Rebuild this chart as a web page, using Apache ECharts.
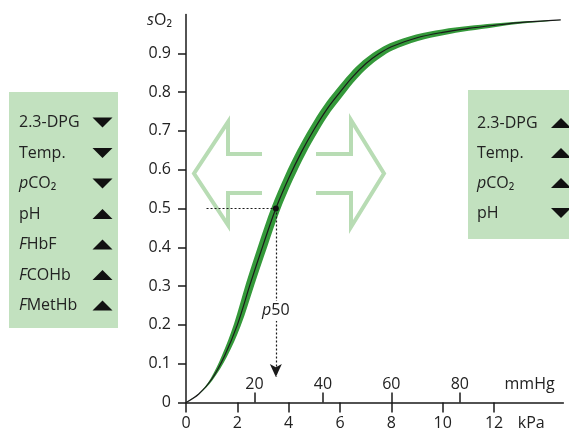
<!DOCTYPE html>
<html>
<head>
<meta charset="utf-8">
<script src="https://cdn.jsdelivr.net/npm/echarts@6/dist/echarts.min.js"></script>
<style>
  html, body { margin: 0; padding: 0; background: #fff; }
  #main { width: 569px; height: 436px; }
</style>
</head>
<body>
<div id="main"></div>
<script>
// oxygen dissociation curve
const kPa = [0, 0.5, 1.0, 1.5, 2.0, 2.5, 3.0, 3.5, 4.0, 4.5, 5.0, 5.5, 6.0, 6.5, 7.0, 7.5, 8.0, 9.0, 10.0, 11.0, 12.0, 13.0, 14.6];
const sO2 = [0, 0.022, 0.06, 0.12, 0.2, 0.305, 0.405, 0.5, 0.578, 0.646, 0.705, 0.757, 0.8, 0.84, 0.873, 0.898, 0.917, 0.94, 0.954, 0.964, 0.972, 0.979, 0.986];

const p50 = 3.5;

const kPaTicks = [0, 2, 4, 6, 8, 10, 12];
const mmHgTicks = [20, 40, 60, 80];
const sO2Ticks = [0, 0.1, 0.2, 0.3, 0.4, 0.5, 0.6, 0.7, 0.8, 0.9];

const leftFactors = ['2.3-DPG', 'Temp.', '{i|p}CO₂', 'pH', '{i|F}HbF', '{i|F}COHb', '{i|F}MetHb'];
const leftDir = ['down', 'down', 'down', 'up', 'up', 'up', 'up'];
const rightFactors = ['2.3-DPG', 'Temp.', '{i|p}CO₂', 'pH'];
const rightDir = ['up', 'up', 'up', 'down'];

// half thickness (px) of the green band round the curve
const bandHalf = [0, 0.3, 1.2, 2.5, 3.5, 4.2, 4.5, 4.5, 4.5, 4.5, 4.5, 4.5, 4.5, 4.3, 4.2, 4, 3.8, 3.4, 3, 2.4, 1.8, 1.2, 0];

const FONT = '"Open Sans", "Noto Sans", sans-serif';
const INK = '#222';
const PANEL = '#c2e1bf';
const ARROW = '#b8dcb4';

const kPaMax = 14.7;
const mmHgMax = kPaMax * 7.50062;

function txt(str, x, y) {
    return {
        type: 'text', z: 5,
        style: {
            text: str, x: x, y: y, verticalAlign: 'middle',
            font: '16px ' + FONT, fill: INK,
            rich: { i: { fontStyle: 'italic', fontSize: 16, fontFamily: FONT, fill: INK } }
        }
    };
}
function tri(dir, x, y) {
    const pts = dir === 'down'
        ? [[x, y - 5], [x + 20, y - 5], [x + 10, y + 5]]
        : [[x + 10, y - 5], [x + 20, y + 5], [x, y + 5]];
    return { type: 'polygon', z: 5, shape: { points: pts }, style: { fill: '#111' } };
}

const graphics = [
    { type: 'rect', z: 1, shape: { x: 9, y: 92, width: 109, height: 236 }, style: { fill: PANEL } },
    { type: 'rect', z: 1, shape: { x: 468, y: 90, width: 101, height: 149 }, style: { fill: PANEL } },
    { type: 'polyline', z: 1, shape: { points: [[262, 154], [228, 154], [228, 122], [194, 173.5], [228, 225], [228, 193], [262, 193]] },
      style: { stroke: ARROW, lineWidth: 4, fill: null, lineJoin: 'miter' } },
    { type: 'polyline', z: 1, shape: { points: [[316, 154], [351, 154], [351, 120], [384, 173.5], [351, 227], [351, 193], [316, 193]] },
      style: { stroke: ARROW, lineWidth: 4, fill: null, lineJoin: 'miter' } }
];
leftFactors.forEach((f, i) => {
    const y = 122.5 + i * 30.5;
    graphics.push(txt(f, 19, y));
    graphics.push(tri(leftDir[i], 92.5, y));
});
rightFactors.forEach((f, i) => {
    const y = 123 + i * 30;
    graphics.push(txt(f, 477, y));
    graphics.push(tri(rightDir[i], 551, y));
});

const curve = kPa.map((k, i) => [k, sO2[i]]);

let myChart = echarts.init(document.getElementById('main'));
let option = {
    animation: false,
    textStyle: { fontFamily: FONT },
    grid: { left: 186, right: 569 - 186 - kPaMax * 25.67, top: 14.5, bottom: 33.5, outerBoundsMode: 'none' },
    xAxis: [
        {
            type: 'value', min: 0, max: kPaMax, position: 'bottom',
            axisLine: { lineStyle: { color: '#1a1a1a', width: 1.5 } },
            axisTick: { show: true, customValues: kPaTicks, length: 10, lineStyle: { color: '#1a1a1a', width: 1.5 } },
            axisLabel: {
                customValues: kPaTicks.concat([13.45]),
                formatter: v => (v > 13 ? 'kPa' : String(v)),
                margin: 13, color: INK, fontSize: 16
            },
            splitLine: { show: false }
        },
        {
            type: 'value', min: 0, max: mmHgMax, position: 'bottom',
            axisLine: { show: false },
            axisTick: { show: true, inside: true, customValues: mmHgTicks, length: 10, lineStyle: { color: '#1a1a1a', width: 1.5 } },
            axisLabel: {
                inside: true,
                customValues: mmHgTicks.concat([100.4]),
                formatter: v => (v > 90 ? 'mmHg' : String(v)),
                margin: 10, color: INK, fontSize: 16
            },
            splitLine: { show: false }
        }
    ],
    yAxis: {
        type: 'value', min: 0, max: 1,
        axisLine: { show: true, lineStyle: { color: '#1a1a1a', width: 1.5 } },
        axisTick: { show: true, customValues: sO2Ticks, length: 8, lineStyle: { color: '#1a1a1a', width: 1.5 } },
        axisLabel: {
            customValues: sO2Ticks,
            formatter: v => (v === 0 ? '0' : v.toFixed(1)),
            margin: 15, color: INK, fontSize: 16
        },
        splitLine: { show: false },
        name: '{i|s}O₂',
        nameLocation: 'end',
        nameGap: -6,
        nameTextStyle: {
            align: 'right', verticalAlign: 'middle', padding: [0, 14, 0, 0],
            color: INK, fontSize: 16,
            rich: { i: { fontStyle: 'italic', fontSize: 16, color: INK } }
        }
    },
    graphic: graphics,
    series: [
        {
            type: 'custom',
            coordinateSystem: 'cartesian2d',
            silent: true,
            z: 2,
            data: [[0, 0]],
            renderItem: function (params, api) {
                const pts = curve.map(d => api.coord(d));
                const up = [], lo = [];
                for (let i = 0; i < pts.length; i++) {
                    const a = pts[Math.max(i - 1, 0)];
                    const b = pts[Math.min(i + 1, pts.length - 1)];
                    const tx = b[0] - a[0], ty = b[1] - a[1];
                    const len = Math.hypot(tx, ty) || 1;
                    const nx = -ty / len, ny = tx / len;
                    up.push([pts[i][0] + nx * bandHalf[i], pts[i][1] + ny * bandHalf[i]]);
                    lo.push([pts[i][0] - nx * bandHalf[i], pts[i][1] - ny * bandHalf[i]]);
                }
                return {
                    type: 'polygon',
                    shape: { points: up.concat(lo.reverse()), smooth: 0.35 },
                    style: { fill: '#34993a' }
                };
            }
        },
        {
            type: 'line',
            data: curve,
            smooth: 0.35,
            symbol: 'none',
            silent: true,
            z: 3,
            lineStyle: { color: '#1a1a1a', width: 1.2 },
            markLine: {
                silent: true,
                symbol: ['none', 'none'],
                label: { show: false },
                lineStyle: { type: [2, 2], color: '#1a1a1a', width: 1.2 },
                emphasis: { disabled: true },
                data: [
                    [{ coord: [0.8, 0.5] }, { coord: [p50, 0.5] }],
                    [{ coord: [p50, 0.5] }, { coord: [p50, 0.066], symbol: 'arrow', symbolSize: [9, 13] }]
                ]
            },
            markPoint: {
                silent: true,
                symbol: 'circle',
                symbolSize: 6,
                itemStyle: { color: '#111' },
                label: { show: false },
                data: [{ coord: [p50, 0.5] }]
            }
        },
        {
            type: 'scatter',
            data: [[p50, 0.236]],
            symbolSize: 1,
            silent: true,
            z: 5,
            itemStyle: { color: 'rgba(0,0,0,0)', opacity: 1 },
            label: {
                show: true, position: 'inside',
                formatter: '{i|p}50',
                color: INK, fontSize: 16, opacity: 1,
                backgroundColor: '#fff', padding: [2, 1],
                rich: { i: { fontStyle: 'italic', fontSize: 16, color: INK } }
            }
        }
    ]
};
myChart.setOption(option);
</script>
</body>
</html>
